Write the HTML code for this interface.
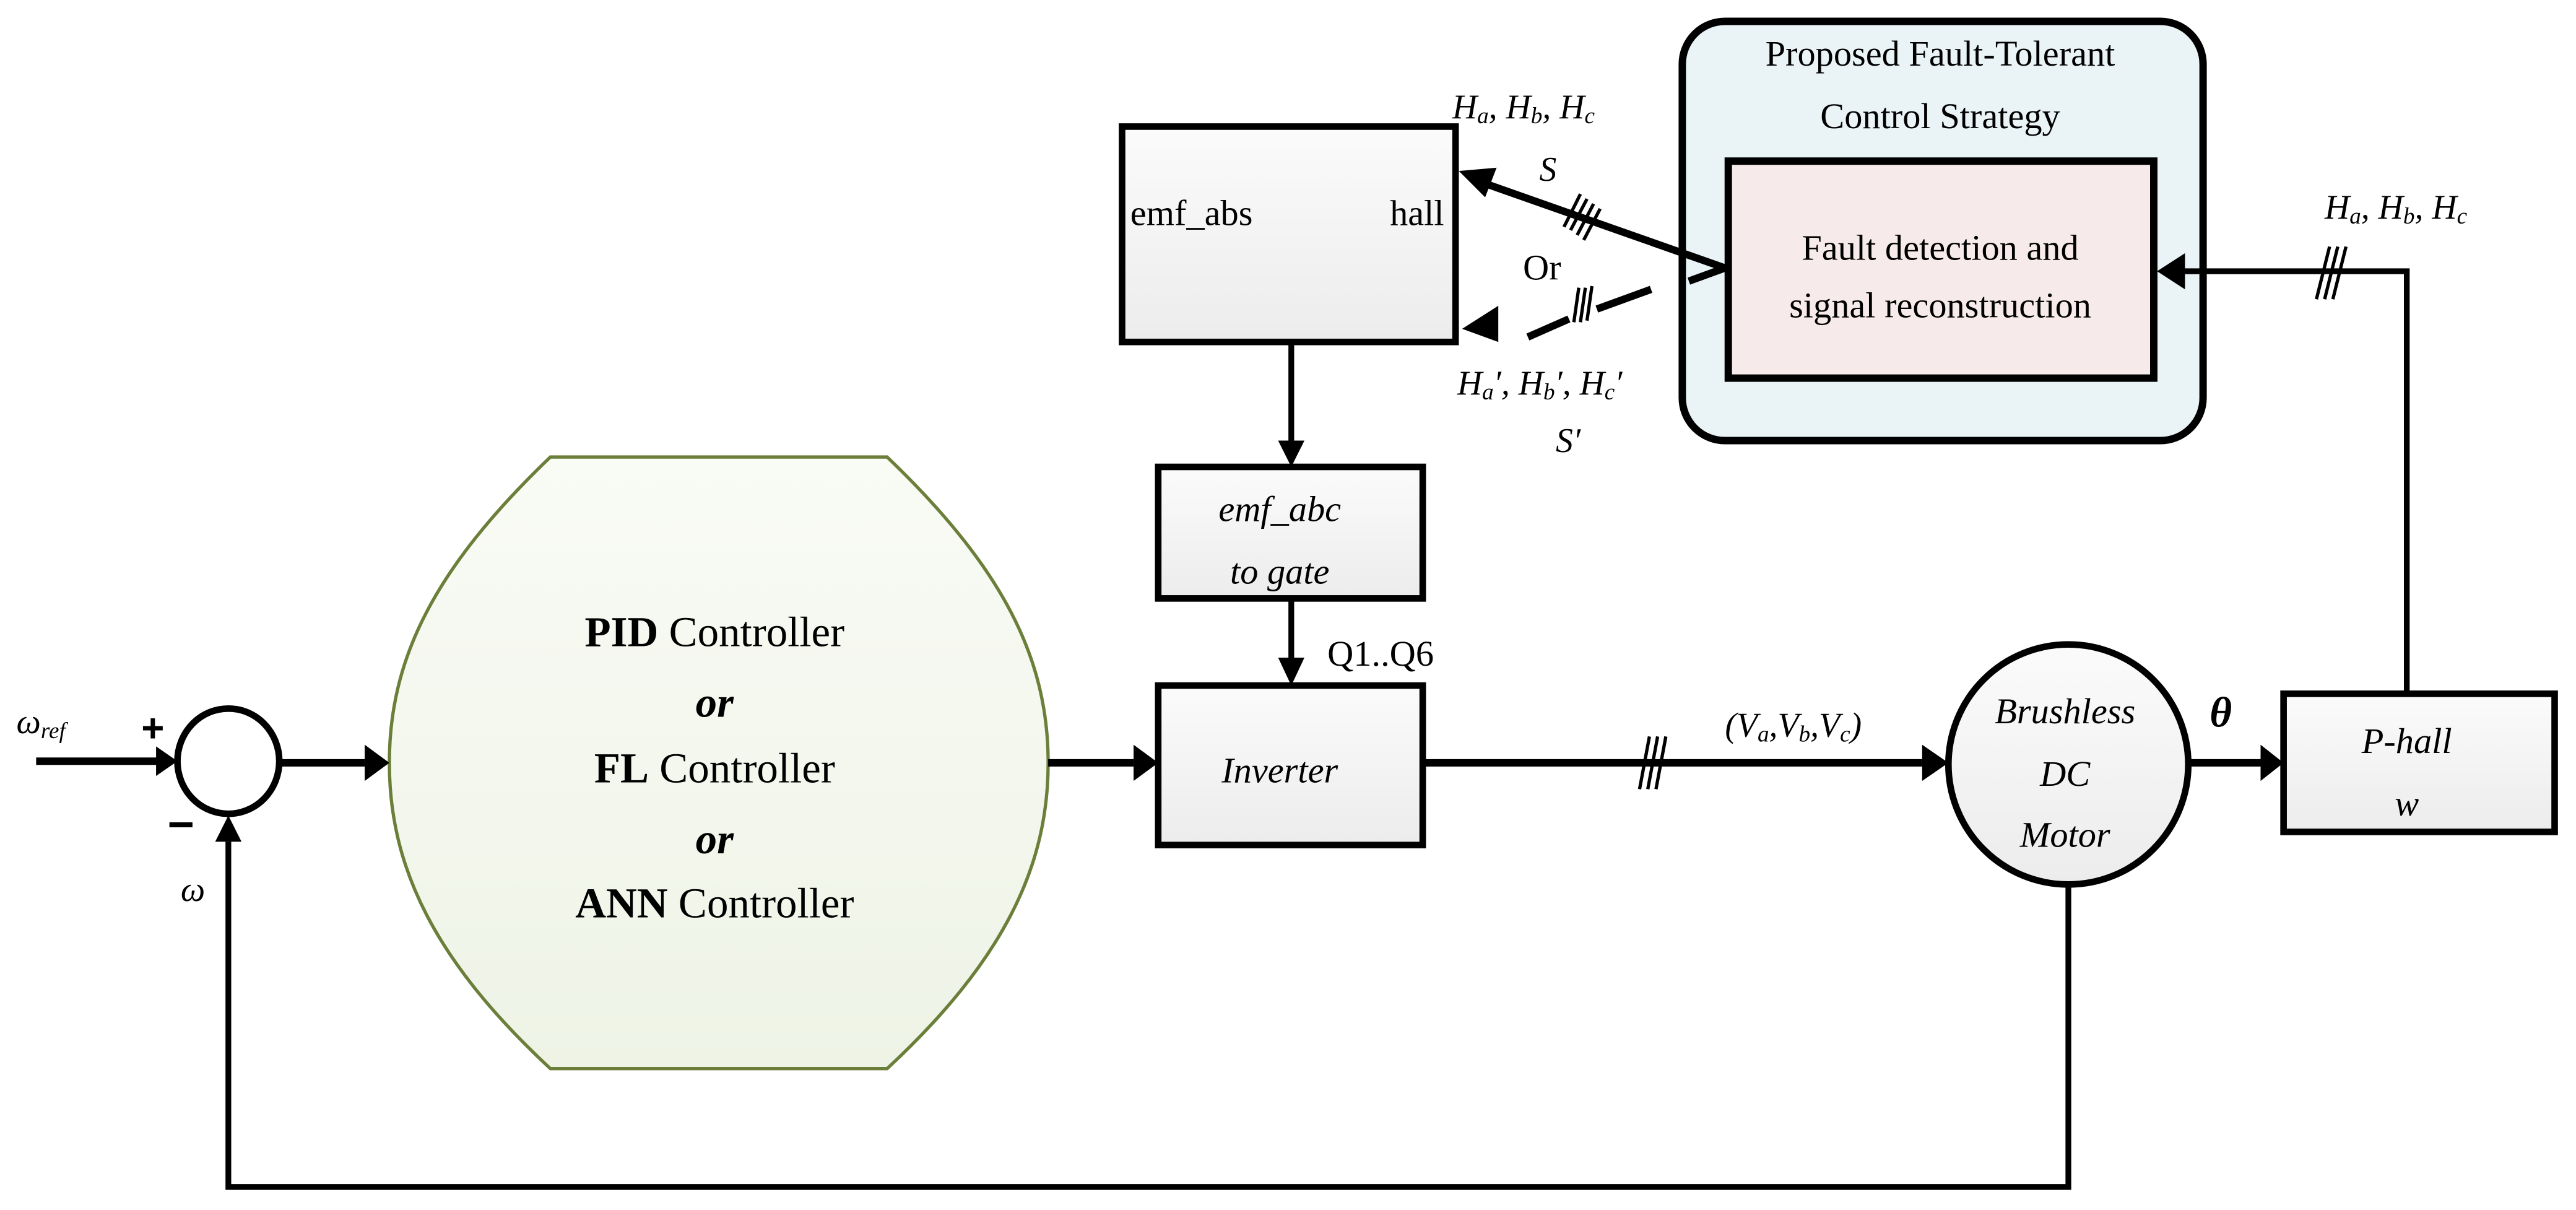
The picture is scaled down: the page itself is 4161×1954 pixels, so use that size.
<!DOCTYPE html>
<html><head><meta charset="utf-8"><style>
html,body{margin:0;padding:0;background:#fff;}
svg{display:block;}
text,tspan{font-family:"Liberation Serif","DejaVu Serif",serif;fill:#000;}
</style></head><body>
<svg width="4161" height="1954" viewBox="0 0 1568 736" preserveAspectRatio="none" xmlns="http://www.w3.org/2000/svg">
<defs>
<linearGradient id="g" x1="0" y1="0" x2="0" y2="1"><stop offset="0" stop-color="#fbfbfb"/><stop offset="1" stop-color="#ececec"/></linearGradient>
<linearGradient id="gg" x1="0" y1="0" x2="0" y2="1"><stop offset="0" stop-color="#f9fbf5"/><stop offset="1" stop-color="#eef3e6"/></linearGradient>
</defs>
<path d="M335,278 L540,278 C610,345 638,400 638,464 C638,528 610,585 540,650 L335,650 C265,585 237,528 237,464 C237,400 265,345 335,278 Z" fill="url(#gg)" stroke="#6b7f3a" stroke-width="2"/>
<rect x="683" y="77" width="203" height="131" fill="url(#g)" stroke="#000" stroke-width="4"/>
<rect x="705" y="284" width="161" height="80" fill="url(#g)" stroke="#000" stroke-width="4"/>
<rect x="705" y="417" width="161" height="97" fill="url(#g)" stroke="#000" stroke-width="4"/>
<rect x="1390" y="422" width="165" height="84" fill="url(#g)" stroke="#000" stroke-width="4"/>
<ellipse cx="1259" cy="465" rx="73" ry="73" fill="url(#g)" stroke="#000" stroke-width="4"/>
<rect x="1024" y="13" width="317" height="255" rx="26" fill="#eaf4f6" stroke="#000" stroke-width="4.5"/>
<rect x="1052" y="98" width="259" height="132" fill="#f7eaea" stroke="#000" stroke-width="4.5"/>
<ellipse cx="139" cy="463" rx="31" ry="32" fill="#fff" stroke="#000" stroke-width="4"/>
<g stroke="#000" fill="none" stroke-width="4.5">
<line x1="22" y1="463" x2="96" y2="463"/>
<line x1="170" y1="464" x2="222" y2="464"/>
<line x1="638" y1="464" x2="690" y2="464"/>
<line x1="866" y1="464" x2="1170" y2="464"/>
<line x1="1333" y1="464" x2="1376" y2="464"/>
<line x1="786" y1="208" x2="786" y2="268" stroke-width="3.5"/>
<line x1="786" y1="364" x2="786" y2="400" stroke-width="3.5"/>
<polyline points="1259,538 1259,722 139,722 139,512" stroke-width="3.5"/>
<polyline points="1465,422 1465,165 1330,165" stroke-width="3.5"/>
<line x1="1050" y1="163" x2="905" y2="112"/>
<line x1="1050" y1="163" x2="1028" y2="171"/>
<line x1="1005" y1="176" x2="972" y2="188"/>
<line x1="955" y1="194" x2="930" y2="205"/>
</g>
<g fill="#000">
<polygon points="95,454 108,463 95,472"/>
<polygon points="222,453 237,464 222,475"/>
<polygon points="690,453 705,464 690,475"/>
<polygon points="1170,453 1186,464 1170,475"/>
<polygon points="1376,453 1390,464 1376,475"/>
<polygon points="778,268 786,284 794,268"/>
<polygon points="778,400 786,417 794,400"/>
<polygon points="131,512 139,496 147,512"/>
<polygon points="1330,154 1313,165 1330,176"/>
<polygon points="888,104 911,102 904,120"/>
<polygon points="890,200 912,186 912,208"/>
</g>
<g stroke="#000" stroke-width="2">
<line x1="998" y1="480" x2="1004" y2="448"/><line x1="1003" y1="480" x2="1009" y2="448"/><line x1="1008" y1="480" x2="1014" y2="448"/>
<line x1="1410" y1="182" x2="1418" y2="150"/><line x1="1415" y1="182" x2="1423" y2="150"/><line x1="1420" y1="182" x2="1428" y2="150"/>
<line x1="952" y1="138" x2="962" y2="118"/><line x1="956" y1="140" x2="966" y2="121"/><line x1="960" y1="143" x2="970" y2="124"/><line x1="964" y1="146" x2="974" y2="127"/>
<line x1="958" y1="196" x2="961" y2="175"/><line x1="962" y1="196" x2="965" y2="175"/><line x1="966" y1="195" x2="969" y2="174"/>
</g>
<g font-size="26" text-anchor="middle">
<text x="435" y="393"><tspan font-weight="bold">PID</tspan> Controller</text>
<text x="435" y="436" font-style="italic" font-weight="bold">or</text>
<text x="435" y="476"><tspan font-weight="bold">FL</tspan> Controller</text>
<text x="435" y="519" font-style="italic" font-weight="bold">or</text>
<text x="435" y="558"><tspan font-weight="bold">ANN</tspan> Controller</text>
</g>
<g font-size="22">
<text x="688" y="137">emf_abs</text>
<text x="879" y="137" text-anchor="end">hall</text>
<text x="1181" y="158" text-anchor="middle">Fault detection and</text>
<text x="1181" y="193" text-anchor="middle">signal reconstruction</text>
<text x="1181" y="40" text-anchor="middle">Proposed Fault-Tolerant</text>
<text x="1181" y="78" text-anchor="middle">Control Strategy</text>
<text x="927" y="170">Or</text>
<text x="808" y="405">Q1..Q6</text>
</g>
<g font-size="22" font-style="italic" text-anchor="middle">
<text x="779" y="317">emf_abc</text>
<text x="779" y="355">to gate</text>
<text x="779" y="476">Inverter</text>
<text x="1257" y="440">Brushless</text>
<text x="1257" y="478">DC</text>
<text x="1257" y="515">Motor</text>
<text x="1465" y="458">P-hall</text>
<text x="1465" y="496">w</text>
</g>
<g font-size="21" font-style="italic">
<text x="884" y="72">H<tspan font-size="14" dy="3">a</tspan><tspan dy="-3">, H</tspan><tspan font-size="14" dy="3">b</tspan><tspan dy="-3">, H</tspan><tspan font-size="14" dy="3">c</tspan></text>
<text x="937" y="110">S</text>
<text x="1415" y="133">H<tspan font-size="14" dy="3">a</tspan><tspan dy="-3">, H</tspan><tspan font-size="14" dy="3">b</tspan><tspan dy="-3">, H</tspan><tspan font-size="14" dy="3">c</tspan></text>
<text x="887" y="240">H<tspan font-size="14" dy="3">a</tspan><tspan dy="-3">′, H</tspan><tspan font-size="14" dy="3">b</tspan><tspan dy="-3">′, H</tspan><tspan font-size="14" dy="3">c</tspan><tspan dy="-3">′</tspan></text>
<text x="947" y="275">S′</text>
<text x="1050" y="448">(V<tspan font-size="14" dy="3">a</tspan><tspan dy="-3">,V</tspan><tspan font-size="14" dy="3">b</tspan><tspan dy="-3">,V</tspan><tspan font-size="14" dy="3">c</tspan><tspan dy="-3">)</tspan></text>
<text x="1345" y="442" font-size="26" font-weight="bold">θ</text>
<text x="10" y="446">ω<tspan font-size="14" dy="3">ref</tspan></text>
<text x="110" y="548">ω</text>
</g>
<text x="86" y="451" font-size="24" style="font-family:'Liberation Sans',sans-serif" font-weight="bold">+</text>
<text x="102" y="511" font-size="28" style="font-family:'Liberation Sans',sans-serif" font-weight="bold">−</text>
</svg>
</body></html>
